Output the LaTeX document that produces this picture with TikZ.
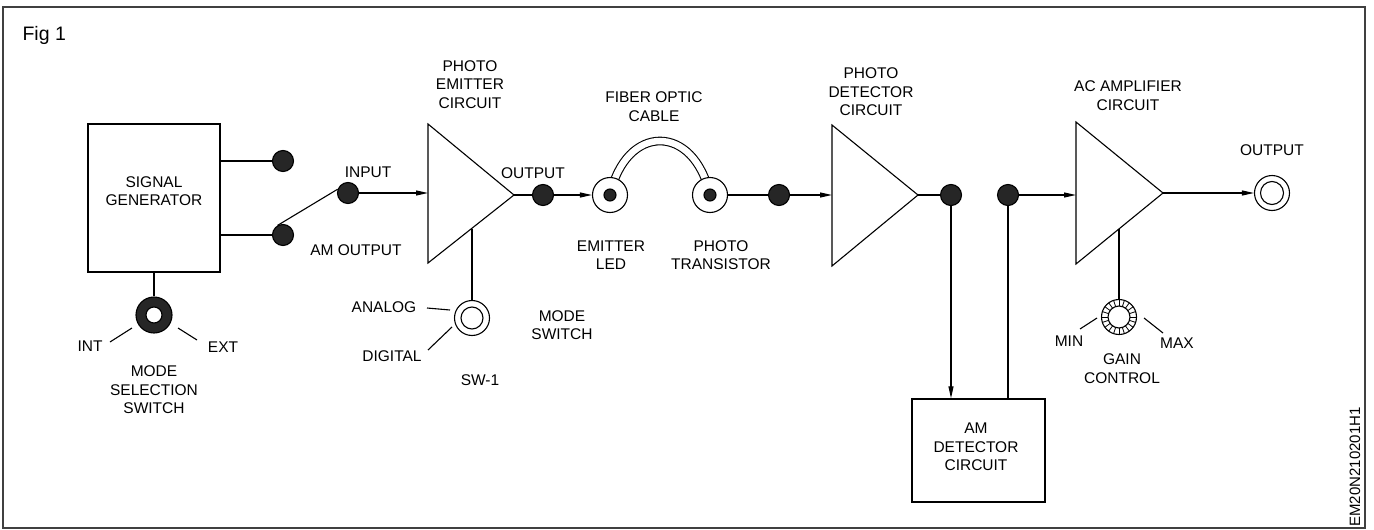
\documentclass[tikz,border=0pt]{standalone}
\usepackage{fontspec}
\setmainfont{Liberation Sans}
\usetikzlibrary{arrows.meta}
\begin{document}
\begin{tikzpicture}[x=1pt,y=-1pt,line width=1.1pt,
  lbl/.style={font=\fontsize{15.5}{18.5}\selectfont,align=center,inner sep=0pt},
  box/.style={draw,line width=1.3pt,inner sep=0pt},
  dot/.style={circle,draw,fill=black!85,minimum size=21pt,inner sep=0pt},
  ring/.style={circle,draw,fill=white,minimum size=35pt,inner sep=0pt},
  hole/.style={circle,draw,fill=white,inner sep=0pt},
  arr/.style={-{Triangle[length=12pt,width=5pt]}},
  tri/.style={line width=1.1pt,line join=miter}]
\useasboundingbox (0,0) rectangle (1374,530);
\draw[black!75,line width=1.2pt] (3,7) rectangle (1365,528);
\node[anchor=west,inner sep=0pt,font=\fontsize{19.5}{22}\selectfont] (fig) at (22,35) {Fig 1};

% signal generator
\node[box,minimum width=132pt,minimum height=148pt] (sg) at (154,198) {};
\node[lbl] (sglbl) at (154,191) {SIGNAL\\GENERATOR};
\node[dot] (tdot) at (283,161) {};
\node[dot] (amdot) at (283,235) {};
\node[dot] (indot) at (348,193) {};
\draw (sg.east |- tdot) -- (tdot);
\draw (sg.east |- amdot) -- (amdot);
\draw (amdot.120) -- (indot.160);
\node[lbl] (inputlbl) at (368,172) {INPUT};
\node[lbl] (amoutlbl) at (356,250) {AM OUTPUT};

% mode selection switch
\node[circle,draw,fill=black!85,minimum size=36pt,inner sep=0pt] (msw) at (154,315) {};
\node[hole,minimum size=16pt] (mswh) at (msw) {};
\draw (sg.south) -- (msw.north);
\coordinate (int1) at (110,342); \coordinate (int2) at (132,328);
\coordinate (ext1) at (178,328); \coordinate (ext2) at (197,340);
\draw (int1) -- (int2);
\draw (ext1) -- (ext2);
\node[lbl] (intlbl) at (90,346) {INT};
\node[lbl] (extlbl) at (223,347) {EXT};
\node[lbl] (msslbl) at (154,390) {MODE\\SELECTION\\SWITCH};

% photo emitter
\coordinate (pe-tl) at (428,124);
\coordinate (pe-bl) at (428,263);
\coordinate (pe-tip) at (514,195);
\coordinate (pe-in) at (428,193);
\coordinate (pe-b) at (472,228.5);
\draw[tri] (pe-tl) -- (pe-tip) -- (pe-bl) -- cycle;
\draw[arr] (indot) -- (pe-in);
\node[lbl] (pelbl) at (470,84.5) {PHOTO\\EMITTER\\CIRCUIT};
\node[ring] (sw1) at (472,318) {};
\node[hole,minimum size=22pt] (sw1h) at (sw1) {};
\draw (pe-b) -- (sw1.north);
\coordinate (an1) at (427,308); \coordinate (an2) at (450,310);
\coordinate (dg1) at (428,350); \coordinate (dg2) at (452,327);
\draw (an1) -- (an2);
\draw (dg1) -- (dg2);
\node[lbl] (anlbl) at (384,307) {ANALOG};
\node[lbl] (dglbl) at (392,356) {DIGITAL};
\node[lbl] (sw1lbl) at (480,380) {SW-1};
\node[lbl] (mslbl) at (562,325) {MODE\\SWITCH};

% emitter output and fiber
\node[lbl] (outlbl1) at (533,173) {OUTPUT};
\node[dot] (outdot) at (543,195) {};
\draw (pe-tip) -- (outdot);
\coordinate (ledc) at (610,195);
\coordinate (ptc) at (710,195);
\draw[double=white,double distance=6.5pt,line width=1.1pt] (ledc) .. controls (626,123) and (694,123) .. (ptc);
\node[ring] (led) at (ledc) {};
\node[circle,draw,fill=black!85,minimum size=12pt,inner sep=0pt] (ledd) at (led) {};
\node[ring] (pt) at (ptc) {};
\node[circle,draw,fill=black!85,minimum size=12pt,inner sep=0pt] (ptd) at (pt) {};
\draw[arr] (outdot) -- (led.west);
\node[lbl] (foclbl) at (654,106.5) {FIBER OPTIC\\CABLE};
\node[lbl] (ledlbl) at (611,255) {EMITTER\\LED};
\node[lbl] (ptlbl) at (721,255) {PHOTO\\TRANSISTOR};
\node[dot] (pddot) at (779,195) {};
\draw (pt.east) -- (pddot);

% photo detector
\coordinate (pd-tl) at (832,125);
\coordinate (pd-bl) at (832,266);
\coordinate (pd-tip) at (918,195);
\coordinate (pd-in) at (832,195);
\draw[tri] (pd-tl) -- (pd-tip) -- (pd-bl) -- cycle;
\draw[arr] (pddot) -- (pd-in);
\node[lbl] (pdlbl) at (871,92) {PHOTO\\DETECTOR\\CIRCUIT};
\node[dot] (d3) at (951,195) {};
\node[dot] (d4) at (1008,195) {};
\draw (pd-tip) -- (d3);

% AM detector
\node[box,minimum width=133pt,minimum height=103pt] (amd) at (978.5,450.5) {};
\node[lbl] (amdlbl) at (976,447) {AM\\DETECTOR\\CIRCUIT};
\draw[arr] (d3) -- (amd.north -| d3);
\draw (amd.north -| d4) -- (d4);

% AC amplifier
\coordinate (ac-tl) at (1076,122);
\coordinate (ac-bl) at (1076,264);
\coordinate (ac-tip) at (1163,193);
\coordinate (ac-in) at (1076,195);
\coordinate (ac-b) at (1119,229);
\draw[tri] (ac-tl) -- (ac-tip) -- (ac-bl) -- cycle;
\draw[arr] (d4) -- (ac-in);
\node[lbl] (aclbl) at (1128,95.5) {AC AMPLIFIER\\CIRCUIT};
\node[ring] (outr) at (1272,193) {};
\node[hole,minimum size=23pt] (outrh) at (outr) {};
\draw[arr] (ac-tip) -- (outr.west);
\node[lbl] (outlbl2) at (1272,150) {OUTPUT};

% gain control
\node[ring] (gain) at (1119,317) {};
\node[hole,minimum size=22pt] (gainh) at (gain) {};
\foreach \a in {0,18,...,342} \draw[line width=0.8pt] (gain.center) ++(\a:11) -- ++(\a:6.5);
\draw (ac-b) -- (gain.north);
\coordinate (mn1) at (1080,329); \coordinate (mn2) at (1097,318);
\coordinate (mx1) at (1144,318); \coordinate (mx2) at (1163,333);
\draw (mn1) -- (mn2);
\draw (mx1) -- (mx2);
\node[lbl] (minlbl) at (1069,341) {MIN};
\node[lbl] (maxlbl) at (1177,343) {MAX};
\node[lbl] (gclbl) at (1122,368.5) {GAIN\\CONTROL};

\node[lbl,rotate=90,font=\fontsize{15}{18}\selectfont] (code) at (1355,467) {EM20N210201H1};
\end{tikzpicture}
\end{document}
